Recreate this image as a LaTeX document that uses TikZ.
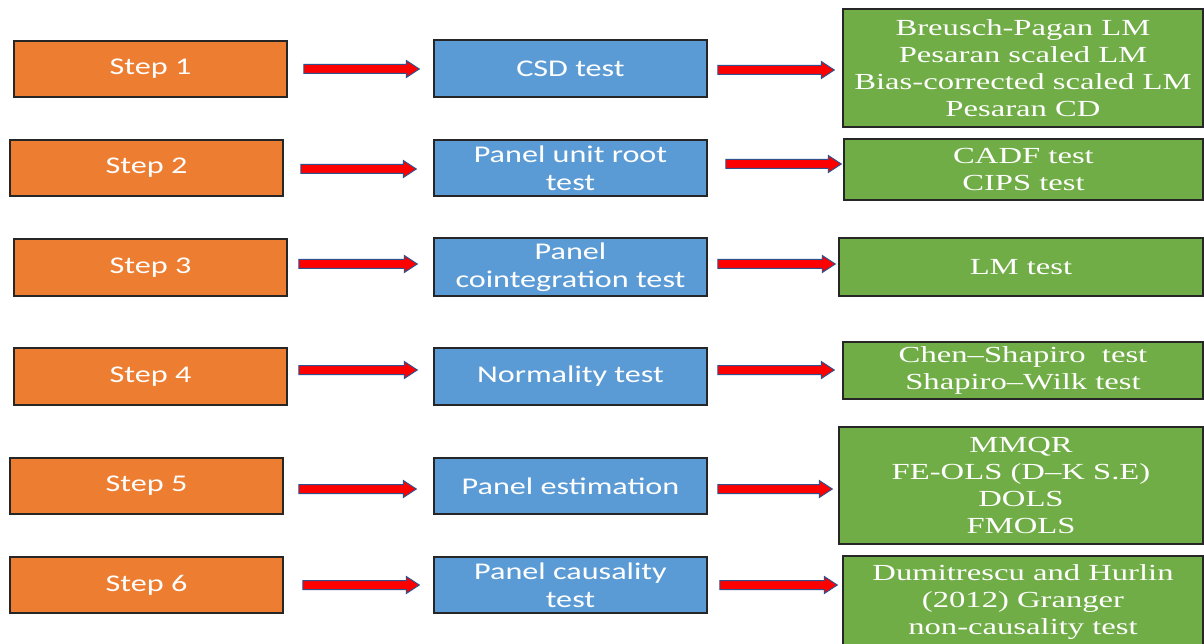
\documentclass[tikz,border=0pt]{standalone}
\usepackage{fontspec}
\usetikzlibrary{calc}
\newfontfamily\calfont[FakeStretch=1.34,Ligatures=TeX]{Carlito}
\newfontfamily\tmsfont[FakeStretch=1.42,Ligatures=TeX]{Liberation Serif}
\definecolor{boxorange}{HTML}{ED7D31}
\definecolor{boxblue}{HTML}{5B9BD5}
\definecolor{boxgreen}{HTML}{70AD47}
\definecolor{edgedark}{HTML}{262626}
\definecolor{arrowedge}{HTML}{2F528F}
\tikzset{
  basebox/.style={rectangle, draw=edgedark, line width=1.5pt, inner sep=2pt, align=center, text=white},
  orangebox/.style={basebox, fill=boxorange, minimum width=273pt, minimum height=56pt,
     font=\calfont\fontsize{24pt}{28pt}\selectfont},
  bluebox/.style={basebox, fill=boxblue, minimum width=273pt, minimum height=56pt,
     font=\calfont\fontsize{24pt}{28pt}\selectfont},
  greenbox/.style={basebox, fill=boxgreen, minimum width=360pt,
     font=\tmsfont\fontsize{23pt}{27pt}\selectfont},
  fatarrow/.style={fill=red, draw=arrowedge, line width=1pt, line join=miter}
}
\newcommand{\fatarrow}[2]{%
  \path[fatarrow] let \p1=(#1), \p2=(#2) in
    (\x1,\y1-4.5pt) -- (\x2-13pt,\y1-4.5pt) -- (\x2-13pt,\y1-8.5pt) -- (\x2,\y1)
    -- (\x2-13pt,\y1+8.5pt) -- (\x2-13pt,\y1+4.5pt) -- (\x1,\y1+4.5pt) -- cycle;}
\begin{document}
\begin{tikzpicture}[x=1pt,y=-1pt]
\useasboundingbox (0,0) rectangle (1204,644);
\fill[white] (0,0) rectangle (1204,644);
% orange column
\node[orangebox] (s1) at (150.5,69) {Step 1};
\node[orangebox] (s2) at (146.5,168) {Step 2};
\node[orangebox, minimum height=57pt] (s3) at (150.5,267.5) {Step 3};
\node[orangebox, minimum height=57pt] (s4) at (150.5,376.5) {Step 4};
\node[orangebox] (s5) at (146.5,486) {Step 5};
\node[orangebox] (s6) at (146.5,585) {Step 6};
% blue column
\node[bluebox, minimum height=57pt] (b1) at (570.5,68.5) {CSD test};
\node[bluebox] (b2) at (570.5,168) {Panel unit root\\test};
\node[bluebox, minimum height=58pt] (b3) at (570.5,267) {Panel\\cointegration test};
\node[bluebox, minimum height=57pt] (b4) at (570.5,376.5) {Normality test};
\node[bluebox] (b5) at (570.5,486) {Panel estimation};
\node[bluebox] (b6) at (570.5,585) {Panel causality\\test};
% green column
\node[greenbox, minimum height=118pt] (g1) at (1023,68) {Breusch-Pagan LM\\Pesaran scaled LM\\Bias-corrected scaled LM\\Pesaran CD};
\node[greenbox, minimum width=359pt, minimum height=61pt] (g2) at (1023.5,169.5) {CADF test\\CIPS test};
\node[greenbox, minimum width=364pt, minimum height=58pt] (g3) at (1021,267) {LM test};
\node[greenbox, minimum height=57pt] (g4) at (1023,370.5) {Chen–Shapiro\ \ test\\Shapiro–Wilk test};
\node[greenbox, minimum width=364pt, minimum height=117pt] (g5) at (1021,485.5) {MMQR\\FE-OLS (D–K S.E)\\DOLS\\FMOLS};
\node[greenbox, minimum height=92pt] (g6) at (1023,602) {Dumitrescu and Hurlin\\(2012) Granger\\non-causality test};
% arrows
\fatarrow{$(s1.east)+(16,0)$}{$(b1.west)+(-14,0)$}
\fatarrow{$(b1.east)+(10,1.5)$}{$(g1.west)+(-8,0)$}
\fatarrow{$(s2.east)+(17,1)$}{$(b2.west)+(-17,0)$}
\fatarrow{$(b2.east)+(18,-4)$}{$(g2.west)+(-2,0)$}
\fatarrow{$(s3.east)+(11,-3.5)$}{$(b3.west)+(-16,0)$}
\fatarrow{$(b3.east)+(10,-3)$}{$(g3.west)+(-3,0)$}
\fatarrow{$(s4.east)+(11,-6.5)$}{$(b4.west)+(-16,0)$}
\fatarrow{$(b4.east)+(10,-6.5)$}{$(g4.west)+(-8,0)$}
\fatarrow{$(s5.east)+(15,3)$}{$(b5.west)+(-17,0)$}
\fatarrow{$(b5.east)+(10,3)$}{$(g5.west)+(-6,0)$}
\fatarrow{$(s6.east)+(19,0)$}{$(b6.west)+(-14,0)$}
\fatarrow{$(b6.east)+(12,0)$}{$(g6.west)+(-5,0)$}
\end{tikzpicture}
\end{document}
